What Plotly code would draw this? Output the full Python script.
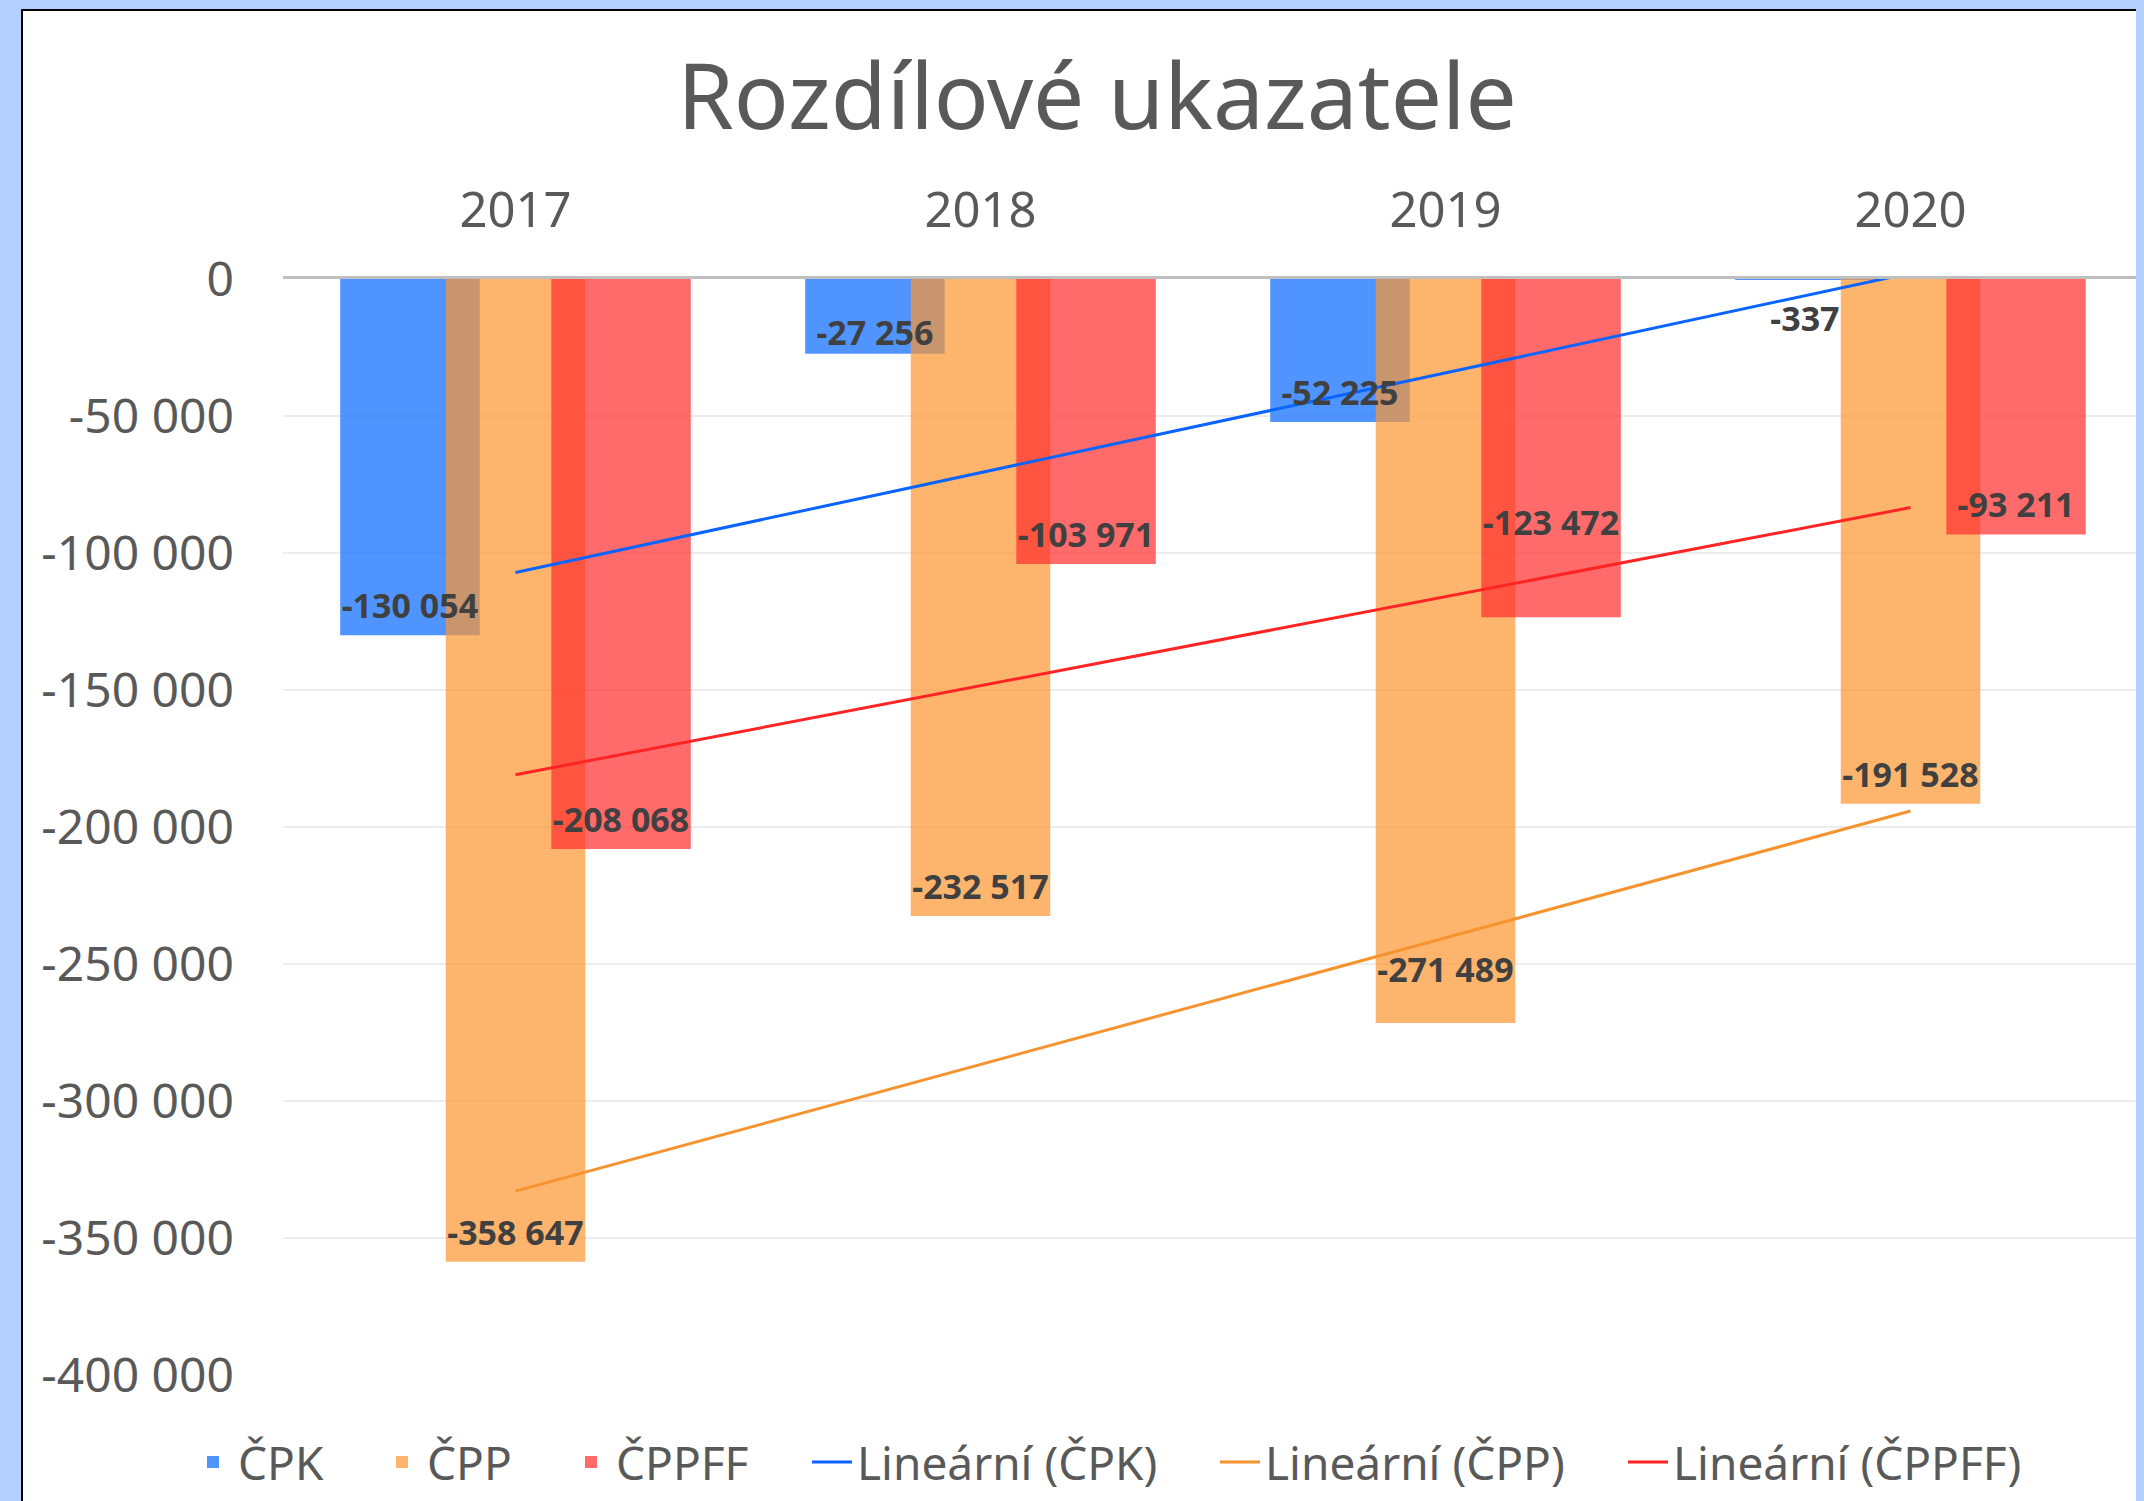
import numpy as np
import plotly.graph_objects as go

years = ["2017", "2018", "2019", "2020"]
cpk = [-130054, -27256, -52225, -337]
cpp = [-358647, -232517, -271489, -191528]
cppff = [-208068, -103971, -123472, -93211]

y_tickvals = [0, -50000, -100000, -150000, -200000, -250000, -300000, -350000, -400000]
y_ticktext = ["0", "-50 000", "-100 000", "-150 000", "-200 000", "-250 000", "-300 000", "-350 000", "-400 000"]

FONT = "Noto Sans"
GRAY = "#595959"
FRAME_BG = "#B4D0FE"

# page offset (browser body margin)
OFF = 8
W, H = 2144 - OFF, 1501 - OFF
L, R, T, B = 283 - OFF, 1, 279 - OFF, 126
pw, ph = W - L - R, H - T - B
YMIN, YMAX = -400000, 0

# extra label distance (px) from the bar end, as placed in the original chart
LABEL_NUDGE = {("ČPK", 1): -6, ("ČPK", 3): 14, ("ČPP", 2): 19, ("ČPPFF", 2): 52}


def fmt(v):
    return f"{v:,}".replace(",", " ")


BAR_W = 0.3
series = [
    ("ČPK", cpk, "rgba(4,102,255,0.70)", -0.227, "#0A64FF"),
    ("ČPP", cpp, "rgba(252,149,49,0.70)", 0.0, "#F7932F"),
    ("ČPPFF", cppff, "rgba(255,44,44,0.70)", 0.227, "#FF2424"),
]
xpos = np.arange(len(years))

fig = go.Figure()
for name, vals, col, ctr, _ in series:
    fig.add_trace(go.Bar(
        x=xpos, y=vals, name=name, legend="legend",
        width=BAR_W, offset=ctr - BAR_W / 2,
        marker=dict(color=col, line=dict(width=0)),
        hoverinfo="skip",
    ))

xnum = xpos + 1
for name, vals, _, _, lcol in series:
    k, q = np.polyfit(xnum, np.array(vals, dtype=float), 1)
    fig.add_trace(go.Scatter(
        x=xpos, y=k * xnum + q, mode="lines", name=f"Lineární ({name})",
        legend="legend2", line=dict(color=lcol, width=3), hoverinfo="skip",
    ))

# data labels on top of everything
for name, vals, _, ctr, _ in series:
    pos = ["top center" if abs(v) / (YMAX - YMIN) * ph > 60 else "bottom center" for v in vals]
    sizes = [12 + 2 * LABEL_NUDGE.get((name, i), 0) for i in range(len(vals))]
    fig.add_trace(go.Scatter(
        x=xpos + ctr, y=vals, mode="markers+text", text=[fmt(v) for v in vals],
        textposition=pos, marker=dict(size=sizes, opacity=0),
        textfont=dict(family=FONT, size=34, color="#404040", weight="bold"),
        showlegend=False, hoverinfo="skip", cliponaxis=False,
    ))

LEG_Y = -(1462 - OFF - (T + ph)) / ph
fig.update_layout(
    width=W, height=H,
    margin=dict(l=L, r=R, t=T, b=B, pad=0),
    barmode="overlay",
    paper_bgcolor=FRAME_BG,
    plot_bgcolor="rgba(0,0,0,0)",
    showlegend=True,
    title=dict(text="Rozdílové ukazatele", font=dict(family=FONT, size=91, color=GRAY),
               x=(1097 - OFF) / W, xanchor="center", y=1 - (97 - OFF) / H, yanchor="middle",
               xref="container", yref="container"),
    legend=dict(orientation="h", x=(188 - OFF - L) / pw, xanchor="left",
                y=LEG_Y, yanchor="middle",
                font=dict(family=FONT, size=46, color=GRAY),
                bgcolor="rgba(0,0,0,0)", itemwidth=40, traceorder="normal",
                entrywidth=134, entrywidthmode="pixels"),
    legend2=dict(orientation="h", x=(807 - OFF - L) / pw, xanchor="left",
                 y=LEG_Y, yanchor="middle",
                 font=dict(family=FONT, size=46, color=GRAY),
                 bgcolor="rgba(0,0,0,0)", itemwidth=40, traceorder="normal",
                 entrywidth=353, entrywidthmode="pixels"),
    xaxis=dict(side="top", range=[-0.5, len(years) - 0.5],
               tickvals=xpos, ticktext=years,
               showline=True, linecolor="#BFBFBF", linewidth=3,
               showgrid=False, zeroline=False, ticks="", ticklabelstandoff=29,
               tickfont=dict(family=FONT, size=49, color=GRAY)),
    yaxis=dict(range=[YMIN, YMAX], tickvals=y_tickvals, ticktext=y_ticktext,
               showgrid=True, gridcolor="#EDEDED", gridwidth=2,
               zeroline=False, showline=False, ticks="", ticklabelstandoff=48,
               tickfont=dict(family=FONT, size=48, color=GRAY)),
    shapes=[dict(type="rect", xref="paper", yref="paper",
                 x0=(22 - OFF - L) / pw, x1=1.05, y0=-0.3, y1=(T + ph - (10 - OFF)) / ph,
                 fillcolor="white", line=dict(color="black", width=2), layer="below")],
)

fig.write_html(
    "out.html",
    post_script=(
        f"document.documentElement.style.background='{FRAME_BG}';"
        f"document.body.style.background='{FRAME_BG}';"
    ),
)
